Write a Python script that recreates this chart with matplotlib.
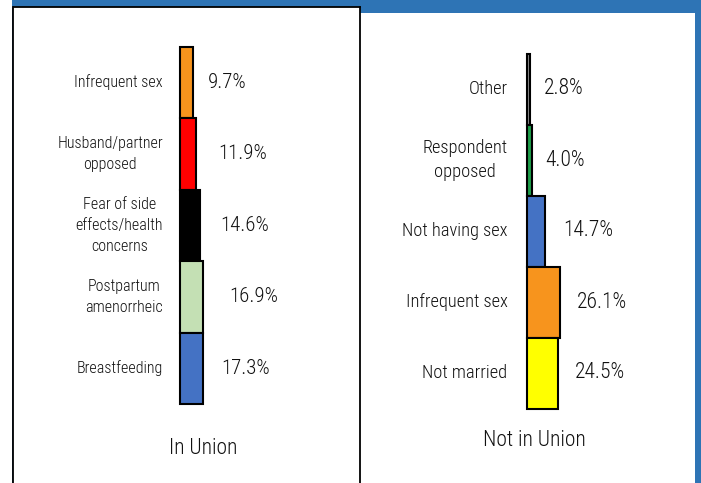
import matplotlib
matplotlib.use("Agg")
import matplotlib.pyplot as plt
import matplotlib.font_manager as fm
from matplotlib.patches import Rectangle

# ---------------- data ----------------
union_categories = ["Infrequent sex", "Husband/partner\nopposed", "Fear of side\neffects/health\nconcerns",
                    "Postpartum\namenorrheic", "Breastfeeding"]
union_values = [9.7, 11.9, 14.6, 16.9, 17.3]
union_colors = ["#F7941D", "#FF0000", "#000000", "#C4E0B4", "#4472C4"]

nonunion_categories = ["Other", "Respondent\nopposed", "Not having sex", "Infrequent sex", "Not married"]
nonunion_values = [2.8, 4.0, 14.7, 26.1, 24.5]
nonunion_colors = ["#8C8C8C", "#1E9E4A", "#4472C4", "#F7941D", "#FFFF00"]

panel_titles = ["In Union", "Not in Union"]

# ---------------- fonts ----------------
names = {f.name for f in fm.fontManager.ttflist}
font_kw = {}
for cand in ["Liberation Sans Narrow", "Roboto Condensed", "Open Sans Condensed"]:
    if cand in names:
        font_kw = {"family": [cand, "DejaVu Sans"], "weight": "light"}
        break
else:
    font_kw = {"family": ["DejaVu Sans"], "stretch": "condensed"}

W, H = 701, 483
DPI = 100
fig = plt.figure(figsize=(W / DPI, H / DPI), dpi=DPI, facecolor="white")

BLUE = "#2E74B5"
TXT = "#111111"


def add_rect(x0, y0, x1, y1, color):
    r = Rectangle((x0 / W, 1 - y1 / H), (x1 - x0) / W, (y1 - y0) / H,
                  transform=fig.transFigure, facecolor=color, edgecolor="none", zorder=-5)
    fig.patches.append(r)


# blue frame pieces
add_rect(12, 0, W, 13, BLUE)
add_rect(12, 0, 13.8, H, BLUE)
add_rect(695, 0, W, H, BLUE)


def make_panel(px_left, px_right, px_top, px_bottom, bar_x0, bar_top, bar_bottom, scale,
               cats, vals, cols, cat_off, pct_offs, border, cat_fs, pct_fs, lsp):
    ax = fig.add_axes([px_left / W, 1 - px_bottom / H, (px_right - px_left) / W, (px_bottom - px_top) / H])
    n = len(vals)
    seg = (bar_bottom - bar_top) / n
    ax.set_xlim((px_left - bar_x0) / scale, (px_right - bar_x0) / scale)
    ax.set_ylim((bar_bottom - px_bottom) / seg, (bar_bottom - px_top) / seg)
    ax.set_facecolor("white")
    ax.set_xticks([])
    ax.set_yticks([])
    for s in ax.spines.values():
        s.set_visible(False)
    if border:
        for k in ["left", "top", "right"]:
            ax.spines[k].set_visible(True)
            ax.spines[k].set_linewidth(1.3)
            ax.spines[k].set_color("black")
    # stacked from bottom: last item at the bottom
    for j, (c, v, col, po) in enumerate(zip(cats, vals, cols, pct_offs)):
        i = n - 1 - j
        ax.bar(0, 1, width=v, bottom=i, align="edge", color=col, edgecolor="black", linewidth=1.5)
        ax.annotate(c, xy=(0, i + 0.5), xytext=(-cat_off, 0), textcoords="offset pixels",
                    ha="right", va="center", multialignment="center", fontsize=cat_fs, color=TXT,
                    linespacing=lsp, **font_kw)
        ax.annotate(f"{v:.1f}%", xy=(v, i + 0.5), xytext=(po, 0), textcoords="offset pixels",
                    ha="left", va="center", fontsize=pct_fs, color=TXT, **font_kw)
    return ax


ax1 = make_panel(13.5, 360, 7, 490, 180, 46.7, 404, 1.35,
                 union_categories, union_values, union_colors, 17, [15, 22, 21, 26, 18], True,
                 11.5, 15, 1.5)
ax2 = make_panel(360, 695, 12.5, 490, 526.5, 53.5, 408.5, 1.27,
                 nonunion_categories, nonunion_values, nonunion_colors, 19, [14, 14, 18, 17, 17], False,
                 13.2, 15.5, 1.45)
ax1.set_zorder(2)

fig.text(203 / W, 1 - 448 / H, panel_titles[0], ha="center", va="center", fontsize=15.5, color=TXT, **font_kw)
fig.text(534 / W, 1 - 441 / H, panel_titles[1], ha="center", va="center", fontsize=15.5, color=TXT, **font_kw)

fig.savefig("out.png", dpi=DPI, facecolor="white")
